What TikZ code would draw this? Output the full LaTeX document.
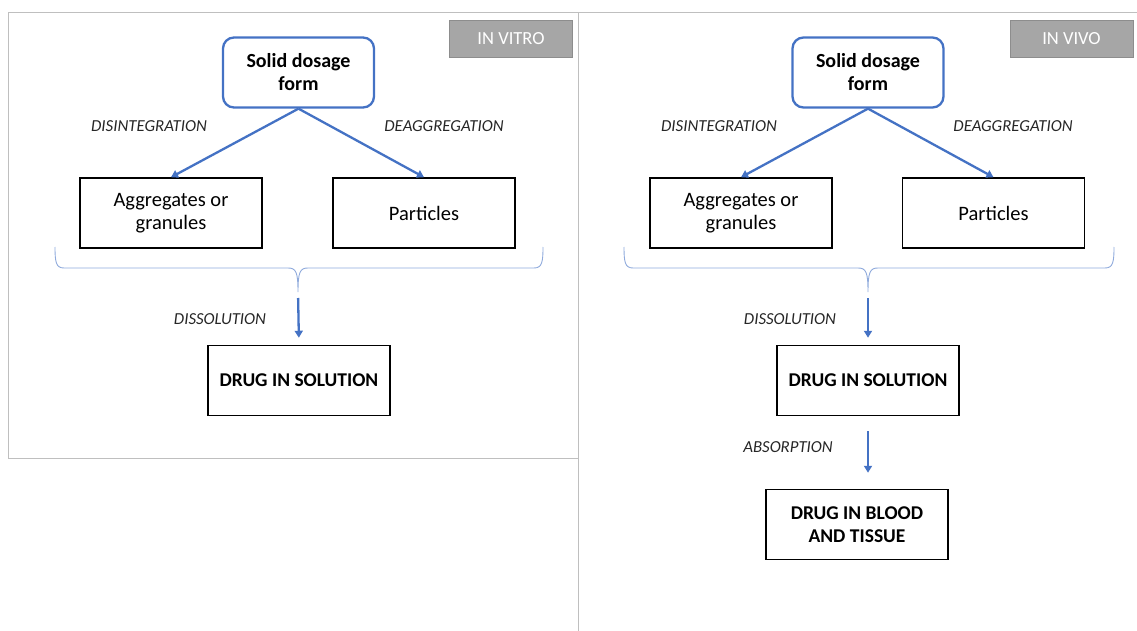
\documentclass[tikz,border=0pt]{standalone}
\usepackage{fontspec}
\setmainfont{Carlito}
\usetikzlibrary{arrows.meta}
\definecolor{pblue}{HTML}{4472C4}
\definecolor{lblue}{HTML}{8FAADC}
\definecolor{frame}{HTML}{BFBFBF}
\definecolor{tagfill}{HTML}{A6A6A6}
\tikzset{
  box/.style={draw=black, line width=1.5pt, minimum width=182pt, minimum height=70pt, align=center, inner sep=0pt, font=\fontsize{20.5}{23}\selectfont},
  dbox/.style={box, font=\fontsize{19.5}{23}\selectfont\bfseries},
  rootbox/.style={draw=pblue, line width=2.3pt, rounded corners=11pt, minimum width=151pt, minimum height=70pt, align=center, inner sep=0pt, font=\fontsize{20}{23}\selectfont\bfseries},
  tag/.style={fill=tagfill, draw=tagfill!85!black, line width=0.8pt, minimum width=123pt, minimum height=37pt, text=white, inner sep=0pt, font=\fontsize{18.5}{20}\selectfont},
  lab/.style={font=\fontsize{16.8}{18}\selectfont\itshape, text=black!85, inner sep=0pt},
  flow/.style={draw=pblue, line width=2.3pt, -{Triangle[length=7pt,width=8pt]}},
  brace/.style={draw=lblue, line width=0.9pt},
  framel/.style={draw=frame, line width=1pt}
}
\begin{document}
\begin{tikzpicture}[x=1pt,y=-1pt]
\useasboundingbox (0,0) rectangle (1137,631);
% frames
\draw[framel] (8,13) rectangle (578,458);
\draw[framel] (578,631) -- (578,13) -- (1137,13);
% tags
\node[tag] (tagL) at (511,39) {IN VITRO};
\node[tag] (tagR) at (1071.5,39) {IN VIVO};

% ---------- left (in vitro) ----------
\node[rootbox] (rootL) at (298.5,72.5) {Solid dosage\\form};
\node[box] (aggL) at (171,213) {Aggregates or\\granules};
\node[box] (parL) at (424,213) {Particles};
\node[dbox] (dsL) at (299,380.5) {DRUG IN SOLUTION};
\draw[flow] (rootL.south) -- (aggL.north);
\draw[flow] (rootL.south) -- (parL.north);
\node[lab] (disL) at (149,126) {DISINTEGRATION};
\node[lab] (deaL) at (444,126) {DEAGGREGATION};
\coordinate (tipL) at (298,292);
\draw[brace] (55,247) .. controls (55,262) and (56,268) .. (64,268) -- (288,268)
  .. controls (296,268) and (298,272) .. (tipL)
  .. controls (298,272) and (300,268) .. (308,268) -- (534,268)
  .. controls (542,268) and (543,262) .. (543,247);
\draw[flow, shorten <=6pt, shorten >=7pt] (tipL) -- (dsL.north);
\node[lab] (dslL) at (220,319) {DISSOLUTION};

% ---------- right (in vivo) ----------
\node[rootbox] (rootR) at (868,72.5) {Solid dosage\\form};
\node[box] (aggR) at (741,213) {Aggregates or\\granules};
\node[box] (parR) at (993.5,213) {Particles};
\node[dbox] (dsR) at (868,380.5) {DRUG IN SOLUTION};
\node[dbox] (blR) at (857,524.5) {DRUG IN BLOOD\\AND TISSUE};
\draw[flow] (rootR.south) -- (aggR.north);
\draw[flow] (rootR.south) -- (parR.north);
\node[lab] (disR) at (719,126) {DISINTEGRATION};
\node[lab] (deaR) at (1013,126) {DEAGGREGATION};
\coordinate (tipR) at (868,292);
\draw[brace] (624,247) .. controls (624,262) and (625,268) .. (633,268) -- (858,268)
  .. controls (866,268) and (868,272) .. (tipR)
  .. controls (868,272) and (870,268) .. (878,268) -- (1105,268)
  .. controls (1113,268) and (1114,262) .. (1114,247);
\draw[flow, shorten <=6pt, shorten >=7pt] (tipR) -- (dsR.north);
\node[lab] (dslR) at (790,319) {DISSOLUTION};
\draw[flow, shorten <=15pt, shorten >=16pt] (dsR.south) -- (dsR.south |- blR.north);
\node[lab] (absR) at (788,447) {ABSORPTION};
\end{tikzpicture}
\end{document}
